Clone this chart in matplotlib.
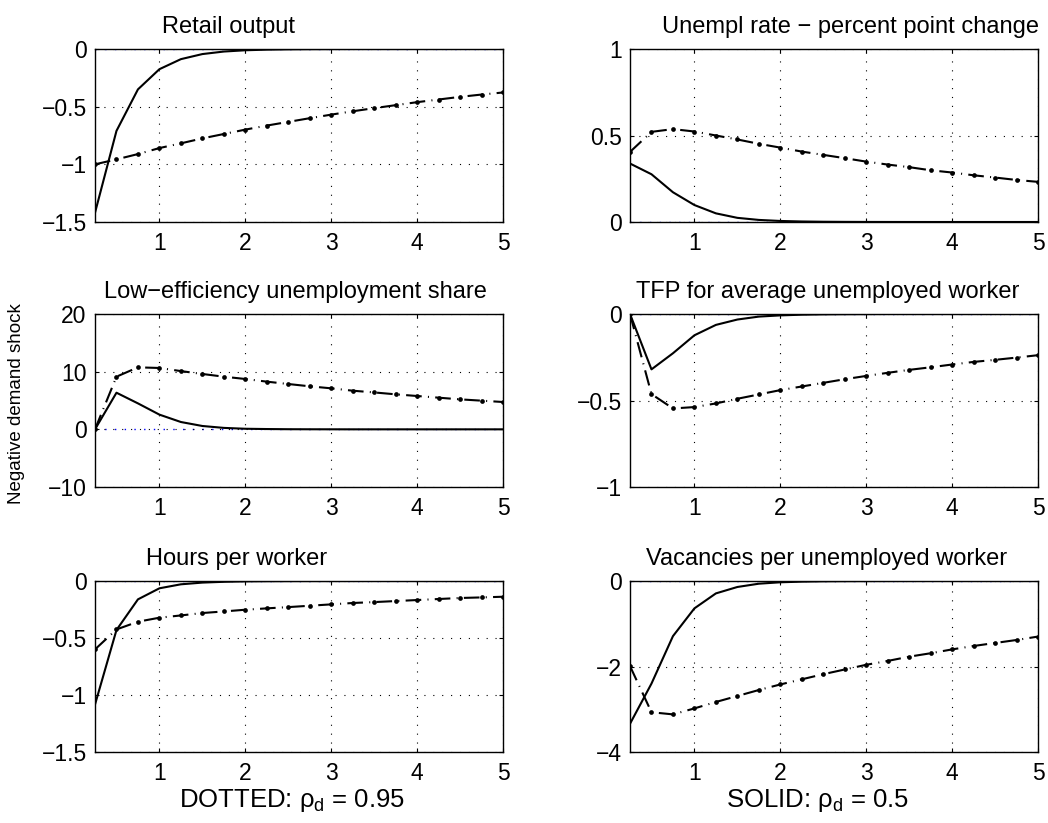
import matplotlib
matplotlib.use("Agg")
import matplotlib.pyplot as plt
import numpy as np

plt.rcParams['font.family'] = ['Liberation Sans', 'DejaVu Sans']
plt.rcParams['mathtext.fontset'] = 'custom'
plt.rcParams['mathtext.rm'] = 'Liberation Sans'
plt.rcParams['mathtext.it'] = 'Liberation Sans'
plt.rcParams['axes.unicode_minus'] = True

# Horizon in years (quarterly)
x_years = [0.25, 0.5, 0.75, 1.0, 1.25, 1.5, 1.75, 2.0, 2.25, 2.5,
           2.75, 3.0, 3.25, 3.5, 3.75, 4.0, 4.25, 4.5, 4.75, 5.0]

titles = ["Retail output", "Unempl rate \u2212 percent point change",
          "Low\u2212efficiency unemployment share", "TFP for average unemployed worker",
          "Hours per worker", "Vacancies per unemployed worker"]

# SOLID: rho_d = 0.5
retail_solid = [-1.42, -0.71, -0.35, -0.175, -0.088, -0.044, -0.022, -0.011, -0.0055, -0.0028,
                -0.0014, -0.0007, -0.0003, -0.0002, -0.0001, 0, 0, 0, 0, 0]
unempl_solid = [0.338, 0.276, 0.172, 0.098, 0.05, 0.024, 0.012, 0.006, 0.003, 0.0015,
                0.0008, 0.0004, 0.0002, 0.0001, 0, 0, 0, 0, 0, 0]
loweff_solid = [0.0, 6.35, 4.5, 2.55, 1.27, 0.58, 0.25, 0.1, 0.05, 0.02,
                0.01, 0.005, 0, 0, 0, 0, 0, 0, 0, 0]
tfp_solid = [0.0, -0.32, -0.227, -0.123, -0.063, -0.032, -0.015, -0.008, -0.004, -0.002,
             -0.001, -0.0005, 0, 0, 0, 0, 0, 0, 0, 0]
hours_solid = [-1.084, -0.43, -0.161, -0.064, -0.029, -0.014, -0.007, -0.003, -0.0015, -0.0008,
               -0.0004, -0.0002, 0, 0, 0, 0, 0, 0, 0, 0]
vac_solid = [-3.34, -2.4, -1.29, -0.64, -0.29, -0.14, -0.063, -0.03, -0.015, -0.007,
             -0.0035, -0.0017, -0.0008, -0.0004, 0, 0, 0, 0, 0, 0]

# DOTTED (dash-dot): rho_d = 0.95
retail_dot = [-1.0, -0.957, -0.911, -0.859, -0.818, -0.775, -0.737, -0.699, -0.664, -0.632,
              -0.6, -0.569, -0.54, -0.513, -0.487, -0.461, -0.438, -0.415, -0.395, -0.377]
unempl_dot = [0.405, 0.521, 0.537, 0.523, 0.5, 0.477, 0.452, 0.43, 0.407, 0.388,
              0.369, 0.349, 0.332, 0.317, 0.299, 0.286, 0.27, 0.257, 0.243, 0.232]
loweff_dot = [0.0, 9.13, 10.75, 10.64, 10.1, 9.6, 9.13, 8.73, 8.27, 7.86,
              7.46, 7.11, 6.7, 6.4, 6.07, 5.78, 5.49, 5.2, 4.97, 4.74]
tfp_dot = [0.0, -0.463, -0.546, -0.538, -0.517, -0.49, -0.465, -0.44, -0.419, -0.398,
           -0.377, -0.358, -0.34, -0.323, -0.308, -0.292, -0.277, -0.265, -0.252, -0.238]
hours_dot = [-0.6, -0.425, -0.357, -0.322, -0.302, -0.281, -0.267, -0.252, -0.24, -0.229,
             -0.217, -0.205, -0.193, -0.185, -0.176, -0.167, -0.158, -0.149, -0.144, -0.138]
vac_dot = [-1.99, -3.07, -3.12, -2.98, -2.83, -2.69, -2.55, -2.42, -2.3, -2.18,
           -2.07, -1.96, -1.87, -1.77, -1.69, -1.6, -1.52, -1.45, -1.38, -1.3]

solid_series = [retail_solid, unempl_solid, loweff_solid, tfp_solid, hours_solid, vac_solid]
dot_series = [retail_dot, unempl_dot, loweff_dot, tfp_dot, hours_dot, vac_dot]

ylims = [(-1.5, 0), (0, 1), (-10, 20), (-1, 0), (-1.5, 0), (-4, 0)]
yticks = [[-1.5, -1, -0.5, 0], [0, 0.5, 1], [-10, 0, 10, 20], [-1, -0.5, 0],
          [-1.5, -1, -0.5, 0], [-4, -2, 0]]
xticks = [1, 2, 3, 4, 5]

W, H = 1048, 823
fig = plt.figure(figsize=(W / 100, H / 100), dpi=100)

lefts = [95, 630]
widths = [408, 408]
tops = [49, 314, 581]
bottoms = [222, 487, 752]
title_cx = [228, 851, 295, 828, 237, 827]   # title centres in pixels

fs = 16.5
fs_title = 17
for i in range(6):
    r, c = divmod(i, 2)
    l = lefts[c] / W
    w = widths[c] / W
    b = 1 - bottoms[r] / H
    h = (bottoms[r] - tops[r]) / H
    ax = fig.add_axes([l, b, w, h])
    ax.plot(x_years, [0] * len(x_years), color='#0000ff', lw=1.0,
            linestyle=(0, (1, 6)), zorder=1)
    ax.plot(x_years, dot_series[i], color='black', lw=1.5,
            linestyle=(0, (7.5, 3, 0.5, 3)), marker='o', markersize=3.4,
            markeredgewidth=0, zorder=3)
    ax.plot(x_years, solid_series[i], color='black', lw=1.5, linestyle='-', zorder=4)
    ax.set_xlim(0.25, 5)
    ax.set_ylim(*ylims[i])
    ax.set_xticks(xticks)
    ax.set_yticks(yticks[i])
    ax.set_yticklabels([('%g' % v).replace('-', '\u2212') for v in yticks[i]])
    ax.grid(True, color='black', lw=0.8, linestyle=(0, (1, 7)))
    ax.tick_params(direction='in', length=3, width=0.8, labelsize=fs,
                   top=True, right=True)
    ax.tick_params(axis='x', pad=7)
    ax.tick_params(axis='y', pad=6)
    for s in ax.spines.values():
        s.set_linewidth(1.0)
        s.set_zorder(5)
    fig.text(title_cx[i] / W, 1 - (tops[r] - 22) / H, titles[i],
             ha='center', va='center', fontsize=fs_title)

fig.text(17 / W, 1 - 404 / H, "Negative demand shock", rotation=90,
         ha='center', va='center', fontsize=13.5)
fig.text(292 / W, 1 - 801 / H, r"DOTTED: $\rho_\mathrm{d}$ = 0.95",
         ha='center', va='center', fontsize=18.5)
fig.text(818 / W, 1 - 801 / H, r"SOLID: $\rho_\mathrm{d}$ = 0.5",
         ha='center', va='center', fontsize=18.5)

fig.savefig("out.png", dpi=100)
